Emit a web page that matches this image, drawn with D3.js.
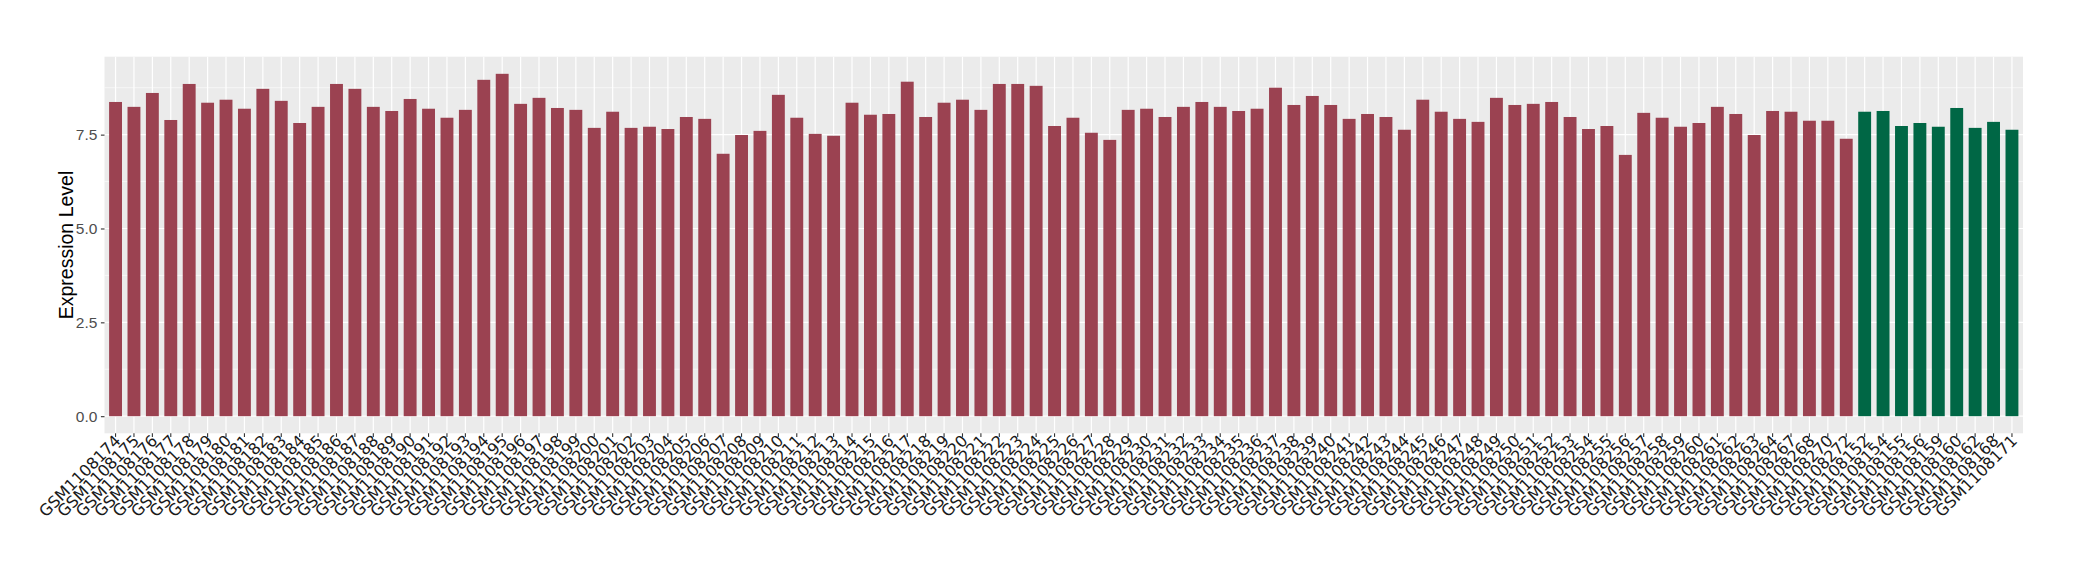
<!DOCTYPE html>
<html>
<head>
<meta charset="utf-8">
<script src="https://cdn.jsdelivr.net/npm/d3@7"></script>
<style>
  html, body { margin: 0; padding: 0; background: #ffffff; }
  svg { display: block; }
</style>
</head>
<body>
<svg id="chart" width="2080" height="580"></svg>
<script>
// ---- data ----
const caseSamples = [
  "GSM1108174","GSM1108175","GSM1108176","GSM1108177","GSM1108178","GSM1108179","GSM1108180","GSM1108181",
  "GSM1108182","GSM1108183","GSM1108184","GSM1108185","GSM1108186","GSM1108187","GSM1108188","GSM1108189",
  "GSM1108190","GSM1108191","GSM1108192","GSM1108193","GSM1108194","GSM1108195","GSM1108196","GSM1108197",
  "GSM1108198","GSM1108199","GSM1108200","GSM1108201","GSM1108202","GSM1108203","GSM1108204","GSM1108205",
  "GSM1108206","GSM1108207","GSM1108208","GSM1108209","GSM1108210","GSM1108211","GSM1108212","GSM1108213",
  "GSM1108214","GSM1108215","GSM1108216","GSM1108217","GSM1108218","GSM1108219","GSM1108220","GSM1108221",
  "GSM1108222","GSM1108223","GSM1108224","GSM1108225","GSM1108226","GSM1108227","GSM1108228","GSM1108229",
  "GSM1108230","GSM1108231","GSM1108232","GSM1108233","GSM1108234","GSM1108235","GSM1108236","GSM1108237",
  "GSM1108238","GSM1108239","GSM1108240","GSM1108241","GSM1108242","GSM1108243","GSM1108244","GSM1108245",
  "GSM1108246","GSM1108247","GSM1108248","GSM1108249","GSM1108250","GSM1108251","GSM1108252","GSM1108253",
  "GSM1108254","GSM1108255","GSM1108256","GSM1108257","GSM1108258","GSM1108259","GSM1108260","GSM1108261",
  "GSM1108262","GSM1108263","GSM1108264","GSM1108267","GSM1108268","GSM1108270","GSM1108272"
];
const caseValues = [
  8.37, 8.24, 8.61, 7.89, 8.85, 8.35, 8.43, 8.19,
  8.72, 8.40, 7.81, 8.24, 8.85, 8.72, 8.24, 8.13,
  8.45, 8.19, 7.95, 8.16, 8.96, 9.12, 8.32, 8.48,
  8.21, 8.16, 7.68, 8.11, 7.68, 7.71, 7.65, 7.97,
  7.92, 6.99, 7.49, 7.60, 8.56, 7.95, 7.52, 7.47,
  8.35, 8.03, 8.05, 8.91, 7.97, 8.35, 8.43, 8.16,
  8.85, 8.85, 8.80, 7.73, 7.95, 7.55, 7.36, 8.16,
  8.19, 7.97, 8.24, 8.37, 8.24, 8.13, 8.19, 8.75,
  8.29, 8.53, 8.29, 7.92, 8.05, 7.97, 7.63, 8.43,
  8.11, 7.92, 7.84, 8.48, 8.29, 8.32, 8.37, 7.97,
  7.65, 7.73, 6.96, 8.08, 7.95, 7.71, 7.81, 8.24,
  8.05, 7.49, 8.13, 8.11, 7.87, 7.87, 7.39
];
const controlSamples = [
  "GSM1108152","GSM1108154","GSM1108155","GSM1108156","GSM1108159",
  "GSM1108160","GSM1108162","GSM1108168","GSM1108171"
];
const controlValues = [8.11, 8.13, 7.73, 7.81, 7.71, 8.21, 7.68, 7.84, 7.63];

const yTicks = [0, 2.5, 5, 7.5];
const yMinorTicks = [1.25, 3.75, 6.25, 8.75];
const yTitle = "Expression Level";
const groupColors = { case: "#9B4251", control: "#006745" };

// ---- build table ----
const data = caseSamples.map((s, i) => ({ sample: s, value: caseValues[i], group: "case" }))
  .concat(controlSamples.map((s, i) => ({ sample: s, value: controlValues[i], group: "control" })));

// ---- layout ----
const panel = { left: 104.5, right: 2023, top: 56.7, bottom: 433.3 };
const svg = d3.select("#chart");

const x = d3.scaleBand()
  .domain(data.map(d => d.sample))
  .range([panel.left, panel.right])
  .paddingInner(0.3)
  .paddingOuter(0.25)
  .align(0.5);

const maxV = d3.max(data, d => d.value);
const y = d3.scaleLinear()
  .domain([-0.05 * maxV, 1.05 * maxV])
  .range([panel.bottom, panel.top]);

// panel background
svg.append("rect")
  .attr("x", panel.left).attr("y", panel.top)
  .attr("width", panel.right - panel.left).attr("height", panel.bottom - panel.top)
  .attr("fill", "#EBEBEB");

// minor horizontal grid
svg.append("g").selectAll("line").data(yMinorTicks).join("line")
  .attr("x1", panel.left).attr("x2", panel.right)
  .attr("y1", d => y(d)).attr("y2", d => y(d))
  .attr("stroke", "#ffffff").attr("stroke-width", 0.6);

// major horizontal grid
svg.append("g").selectAll("line").data(yTicks).join("line")
  .attr("x1", panel.left).attr("x2", panel.right)
  .attr("y1", d => y(d)).attr("y2", d => y(d))
  .attr("stroke", "#ffffff").attr("stroke-width", 1.2);

// vertical grid at each category
svg.append("g").selectAll("line").data(data).join("line")
  .attr("x1", d => x(d.sample) + x.bandwidth() / 2).attr("x2", d => x(d.sample) + x.bandwidth() / 2)
  .attr("y1", panel.top).attr("y2", panel.bottom)
  .attr("stroke", "#ffffff").attr("stroke-width", 1.2);

// bars
svg.append("g").selectAll("rect").data(data).join("rect")
  .attr("x", d => x(d.sample))
  .attr("width", x.bandwidth())
  .attr("y", d => y(d.value))
  .attr("height", d => y(0) - y(d.value))
  .attr("fill", d => groupColors[d.group]);

// y axis
const yAxis = d3.axisLeft(y).tickValues(yTicks).tickFormat(d3.format(".1f")).tickSize(3.6).tickPadding(3.5);
const gy = svg.append("g").attr("transform", `translate(${panel.left},0)`).call(yAxis);
gy.select(".domain").remove();
gy.selectAll(".tick line").attr("stroke", "#333333").attr("stroke-width", 1.1);
gy.selectAll(".tick text")
  .attr("fill", "#4D4D4D")
  .style("font-family", "'Liberation Sans Narrow', 'Liberation Sans', Arial, sans-serif")
  .style("font-stretch", "condensed")
  .style("font-size", "15.5px");

// x axis
const xAxis = d3.axisBottom(x).tickSize(3.6).tickPadding(0);
const gx = svg.append("g").attr("transform", `translate(0,${panel.bottom})`).call(xAxis);
gx.select(".domain").remove();
gx.selectAll(".tick line").attr("stroke", "#333333").attr("stroke-width", 1.1);
gx.selectAll(".tick text")
  .attr("fill", "#1a1a1a")
  .attr("text-anchor", "end")
  .attr("dy", null)
  .attr("y", null)
  .attr("transform", "translate(6.2,8.6) rotate(-45)")
  .style("font-family", "'DejaVu Sans', sans-serif")
  .style("font-size", "16px");

// y title
svg.append("text")
  .attr("transform", `translate(72.5,${(panel.top + panel.bottom) / 2}) rotate(-90)`)
  .attr("text-anchor", "middle")
  .attr("fill", "#000000")
  .style("font-family", "'Liberation Sans', Arial, sans-serif")
  .style("font-size", "19.5px")
  .text(yTitle);
</script>
</body>
</html>
